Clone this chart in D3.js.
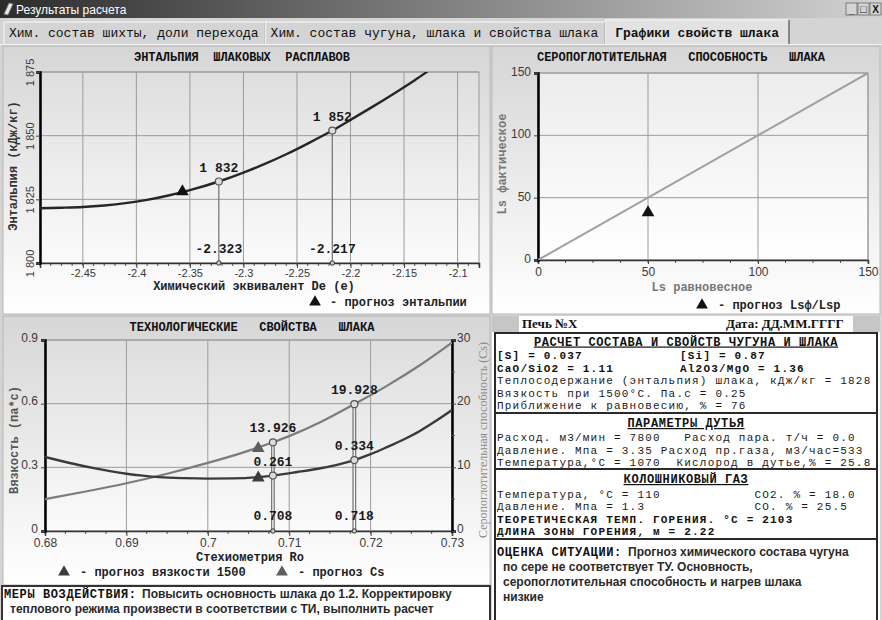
<!DOCTYPE html>
<html><head><meta charset="utf-8">
<script src="https://cdn.jsdelivr.net/npm/d3@7"></script>
<style>
html,body{margin:0;padding:0;background:#d4d4d4;overflow:hidden;}
svg{display:block;}
text{font-family:"Liberation Mono","DejaVu Sans Mono",monospace;white-space:pre;}
.sans{font-family:"Liberation Sans",Arial,sans-serif;}
.serif{font-family:"Liberation Serif","Times New Roman",serif;}
</style></head><body>
<svg id="win" width="882" height="620"></svg>
<script>
// ---------------- data ----------------
const windowTitle = "Результаты расчета";
const tabLabels = ["Хим. состав шихты, доли перехода", "Хим. состав чугуна, шлака и свойства шлака", "Графики свойств шлака"];

// Enthalpy of slag melts vs chemical equivalent De
const deValues = [-2.49, -2.47, -2.45, -2.43, -2.41, -2.39, -2.37, -2.35, -2.323, -2.30, -2.28, -2.26, -2.24, -2.217, -2.20, -2.18, -2.16, -2.14, -2.128];
const enthalpyValues = [1821.5, 1821.7, 1822.0, 1822.6, 1823.5, 1824.8, 1826.5, 1828.6, 1832.0, 1835.5, 1838.9, 1842.7, 1846.9, 1852.0, 1856.2, 1861.2, 1866.4, 1871.8, 1875.2];
const enthalpyMarkDe = [-2.323, -2.217];
const enthalpyMarkValue = [1832, 1852];
const enthalpyForecastDe = -2.357;
const enthalpyForecastValue = 1828;
const deTicks = [-2.45, -2.4, -2.35, -2.3, -2.25, -2.2, -2.15, -2.1];
const enthalpyTicks = [1800, 1825, 1850, 1875];

// Sulphur absorption: equilibrium vs actual
const lsEquilibrium = [0, 150];
const lsActual = [0, 150];
const lsForecastEq = 50;
const lsForecastActual = 38;
const lsTicks = [0, 50, 100, 150];

// Technological properties vs stoichiometry Ro
const roVisc = [0.68, 0.682, 0.684, 0.686, 0.688, 0.69, 0.692, 0.694, 0.697, 0.70, 0.703, 0.706, 0.708, 0.711, 0.714, 0.716, 0.718, 0.72, 0.722, 0.724, 0.726, 0.728, 0.73];
const viscosityValues = [0.349, 0.33, 0.312, 0.296, 0.282, 0.27, 0.261, 0.254, 0.249, 0.247, 0.248, 0.253, 0.261, 0.278, 0.297, 0.313, 0.334, 0.362, 0.395, 0.43, 0.47, 0.518, 0.57];
const roCs = [0.68, 0.685, 0.69, 0.695, 0.70, 0.704, 0.708, 0.71, 0.714, 0.718, 0.722, 0.726, 0.73];
const csValues = [5.0, 6.2, 7.5, 9.0, 10.7, 12.2, 13.926, 14.9, 17.2, 19.928, 22.8, 26.0, 29.6];
const roMarks = [0.708, 0.718];
const viscMarks = [0.261, 0.334];
const csMarks = [13.926, 19.928];
const roForecast = 0.7062;
const viscForecast = 0.25;
const csForecast = 13.0;
const roTicks = [0.68, 0.69, 0.7, 0.71, 0.72, 0.73];
const viscTicks = [0, 0.3, 0.6, 0.9];
const csTicks = [0, 10, 20, 30];

// Report
const furnace = "Печь №X";
const reportDate = "Дата: ДД.ММ.ГГГГ";
const sulphur = 0.037, silicon = 0.87, basicity = 1.11, aluminaMagnesia = 1.36;
const blastLines = ["Расход. м3/мин = 7800   Расход пара. т/ч = 0.0",
                    "Давление. Мпа = 3.35 Расход пр.газа, м3/час=533",
                    "Температура,°С = 1070  Кислород в дутье,% = 25.8"];
const gasLines = ["Температура, °С = 110            СО2. % = 18.0",
                  "Давление. Мпа = 1.3              СО. % = 25.5"];
const gasBoldLines = ["ТЕОРЕТИЧЕСКАЯ ТЕМП. ГОРЕНИЯ. °С = 2103", "ДЛИНА ЗОНЫ ГОРЕНИЯ, м = 2.22"];
const assessment = ["Прогноз химического состава чугуна", "по сере не соответствует ТУ. Основность,",
                    "серопоглотительная способность и нагрев шлака", "низкие"];
const measures = ["Повысить основность шлака до 1.2. Корректировку",
                  "теплового режима произвести в соответствии с ТИ, выполнить расчет"];

// ---------------- drawing ----------------
const W = 882, H = 620;
const svg = d3.select("#win");
const defs = svg.append("defs");
const fmtThousands = d3.formatLocale({decimal: ".", thousands: " ", grouping: [3], currency: ["", ""], minus: "-"}).format(",d");

function grad(id, c0, c1, horizontal) {
  const g = defs.append("linearGradient").attr("id", id)
    .attr("x1", 0).attr("y1", 0).attr("x2", horizontal ? 1 : 0).attr("y2", horizontal ? 0 : 1);
  g.append("stop").attr("offset", "0%").attr("stop-color", c0);
  g.append("stop").attr("offset", "100%").attr("stop-color", c1);
}
grad("gTitle", "#2c2c2c", "#d2d2d2", true);
grad("gPanel", "#d6d6d6", "#ffffff");
grad("gPlot", "#dedede", "#fbfbfb");
grad("gPlot2", "#ececec", "#ffffff");

svg.append("rect").attr("width", W).attr("height", H).attr("fill", "#d4d4d4");

// title bar
svg.append("rect").attr("x", 0).attr("y", 0).attr("width", W).attr("height", 18).attr("fill", "url(#gTitle)");
svg.append("path").attr("d", "M4,14 L9,3 L13,4 L8,15 Z").attr("fill", "#e8e8e8").attr("stroke", "#777");
svg.append("text").attr("class", "sans").attr("x", 16).attr("y", 13.5)
  .attr("font-size", 12).attr("fill", "#fff").text(windowTitle);
["_", "□", "X"].forEach((s, i) => {
  const bx = 846 + i * 12;
  svg.append("rect").attr("x", bx).attr("y", 3).attr("width", 11).attr("height", 12)
    .attr("fill", "#d4d4d4").attr("stroke", "#666").attr("stroke-width", 0.8);
  svg.append("text").attr("class", "sans").attr("x", bx + 5.5).attr("y", 13).attr("text-anchor", "middle")
    .attr("font-size", i === 1 ? 11 : 10).attr("font-weight", "bold").attr("fill", "#111").text(s);
});

// tabs
let tabX = 4;
tabLabels.forEach((label, i) => {
  const selected = i === tabLabels.length - 1;
  const w = label.length * 7.8 + (selected ? 20 : 12);
  const top = selected ? 20 : 22;
  const g = svg.append("g");
  g.append("rect").attr("x", tabX).attr("y", top).attr("width", w).attr("height", 44 - top)
    .attr("fill", selected ? "#e2e2e2" : "#d4d4d4");
  g.append("path").attr("d", `M${tabX},44 V${top} H${tabX + w}`).attr("fill", "none").attr("stroke", "#fafafa");
  g.append("path").attr("d", `M${tabX + w},${top} V44`).attr("fill", "none").attr("stroke", "#6a6a6a").attr("stroke-width", 1.5);
  g.append("text").attr("x", tabX + (selected ? 10 : 5)).attr("y", 37).attr("font-size", 13)
    .attr("font-weight", selected ? "bold" : "normal").attr("fill", "#111").text(label);
  tabX += w;
});
svg.append("line").attr("x1", 0).attr("x2", W).attr("y1", 44.5).attr("y2", 44.5).attr("stroke", "#f4f4f4");

// generic helpers
function panel(x, y, w, h) {
  svg.append("rect").attr("x", x).attr("y", y).attr("width", w).attr("height", h)
    .attr("fill", "url(#gPanel)").attr("stroke", "#b8b8b8");
}
function txt(x, y, s, o = {}) {
  const t = svg.append("text").attr("x", x).attr("y", y).text(s)
    .attr("font-size", o.size || 12).attr("fill", o.fill || "#111")
    .attr("font-weight", o.weight || "normal").attr("text-anchor", o.anchor || "start");
  if (o.cls) t.attr("class", o.cls);
  if (o.spacing) t.attr("letter-spacing", o.spacing);
  if (o.rotate) t.attr("transform", `rotate(${o.rotate},${x},${y})`);
  if (o.underline) t.attr("text-decoration", "underline");
  return t;
}
function triangle(x, y, fill, size) {
  svg.append("path").attr("d", d3.symbol(d3.symbolTriangle, size || 70)())
    .attr("transform", `translate(${x},${y})`).attr("fill", fill);
}
function plotArea(xs, ys, fill, clipId) {
  const [l, r] = xs.range(), [b, t] = ys.range();
  svg.append("rect").attr("x", l).attr("y", t).attr("width", r - l).attr("height", b - t)
    .attr("fill", fill).attr("stroke", "#9a9a9a");
  defs.append("clipPath").attr("id", clipId).append("rect")
    .attr("x", l).attr("y", t).attr("width", r - l).attr("height", b - t);
}
function grid(xs, ys, xt, yt) {
  const [l, r] = xs.range(), [b, t] = ys.range();
  const g = svg.append("g").attr("stroke", "#9c9c9c").attr("stroke-width", 1);
  xt.forEach(v => g.append("line").attr("x1", xs(v)).attr("x2", xs(v)).attr("y1", t).attr("y2", b));
  yt.forEach(v => g.append("line").attr("x1", l).attr("x2", r).attr("y1", ys(v)).attr("y2", ys(v)));
}
function minorTicks(xs, step, y, len) {
  const [a, b] = xs.domain();
  const g = svg.append("g").attr("stroke", "#555");
  for (let v = Math.ceil(a / step - 1e-9) * step; v <= b + 1e-9; v += step)
    g.append("line").attr("x1", xs(v)).attr("x2", xs(v)).attr("y1", y).attr("y2", y + len);
}
function styleAxis(g) {
  g.selectAll("text").attr("class", "sans").attr("font-size", 11).attr("fill", "#3a3a3a");
  g.selectAll(".tick line").attr("stroke", "#444");
}
function dropMark(xs, xv, yTop, yBottom, dx) {
  (dx || [0]).forEach(d => svg.append("line").attr("x1", xs(xv) + d).attr("x2", xs(xv) + d)
    .attr("y1", yTop).attr("y2", yBottom).attr("stroke", "#7a7a7a").attr("stroke-width", 1.3));
  svg.append("circle").attr("cx", xs(xv)).attr("cy", yBottom).attr("r", 2.2)
    .attr("fill", "#ccc").attr("stroke", "#333").attr("stroke-width", 1);
}
function pointMark(x, y) {
  svg.append("circle").attr("cx", x).attr("cy", y).attr("r", 3.5)
    .attr("fill", "#dcdcdc").attr("stroke", "#555").attr("stroke-width", 1.2);
}
const valueStyle = {size: 13, weight: "bold", anchor: "middle", fill: "#1a1a1a"};

// ---------- chart 1: enthalpy ----------
panel(3, 46, 487, 268);
const xDe = d3.scaleLinear().domain([-2.49, -2.08]).range([40, 479]);
const yH = d3.scaleLinear().domain([1800, 1875]).range([263, 72]);
plotArea(xDe, yH, "url(#gPlot)", "clip1");
grid(xDe, yH, deTicks, enthalpyTicks);
minorTicks(xDe, 0.01, 263, 3);
const ax1 = svg.append("g").attr("transform", "translate(0,263)")
  .call(d3.axisBottom(xDe).tickValues(deTicks).tickSize(5).tickFormat(String));
ax1.select(".domain").attr("stroke", "#333").attr("stroke-width", 1.5);
styleAxis(ax1);
ax1.selectAll("text").attr("dy", "0.55em");
const ay1 = svg.append("g").attr("transform", "translate(40,0)")
  .call(d3.axisLeft(yH).tickValues(enthalpyTicks).tickSize(4).tickFormat(fmtThousands));
ay1.select(".domain").attr("stroke", "#000").attr("stroke-width", 2.5);
styleAxis(ay1);
ay1.selectAll("text").attr("transform", "rotate(-90)").attr("x", 0).attr("y", -6).attr("dy", 0)
  .attr("text-anchor", "middle");
txt(242, 61, "ЭНТАЛЬПИЯ  ШЛАКОВЫХ  РАСПЛАВОВ", {size: 12, weight: "bold", anchor: "middle"});
txt(17, 166, "Энтальпия (кДж/кг)", {size: 12, weight: "bold", anchor: "middle", rotate: -90, fill: "#333"});
txt(254, 290, "Химический эквивалент De (е)", {size: 12, weight: "bold", anchor: "middle", fill: "#222"});

svg.append("path").datum(deValues.map((d, i) => [d, enthalpyValues[i]]))
  .attr("clip-path", "url(#clip1)")
  .attr("d", d3.line().x(d => xDe(d[0])).y(d => yH(d[1])).curve(d3.curveMonotoneX))
  .attr("fill", "none").attr("stroke", "#262626").attr("stroke-width", 2.4);
enthalpyMarkDe.forEach((de, i) => {
  const px = xDe(de), py = yH(enthalpyMarkValue[i]);
  dropMark(xDe, de, py, 263);
  pointMark(px, py);
  txt(px, py - 10, fmtThousands(enthalpyMarkValue[i]), valueStyle);
  txt(px, 253, String(de), valueStyle);
});
triangle(xDe(enthalpyForecastDe), yH(enthalpyForecastValue), "#111");
triangle(315, 302, "#111", 60);
txt(330, 306, "- прогноз энтальпии", {size: 12, weight: "bold", fill: "#222"});

// ---------- chart 2: sulphur absorption capacity ----------
panel(492, 46, 388, 268);
const xLs = d3.scaleLinear().domain([0, 150]).range([538, 868]);
const yLs = d3.scaleLinear().domain([0, 150]).range([260, 73]);
plotArea(xLs, yLs, "url(#gPlot2)", "clip2");
grid(xLs, yLs, lsTicks, lsTicks);
minorTicks(xLs, 12.5, 260, 3);
const ax2 = svg.append("g").attr("transform", "translate(0,260)")
  .call(d3.axisBottom(xLs).tickValues(lsTicks).tickSize(4));
ax2.select(".domain").attr("stroke", "#333").attr("stroke-width", 1.5);
styleAxis(ax2);
ax2.selectAll("text").attr("font-size", 12).attr("dy", "0.75em");
const ay2 = svg.append("g").attr("transform", "translate(538,0)")
  .call(d3.axisLeft(yLs).tickValues(lsTicks).tickSize(4));
ay2.select(".domain").attr("stroke", "#000").attr("stroke-width", 2.5);
styleAxis(ay2);
ay2.selectAll("text").attr("font-size", 12).attr("dy", "0.2em");
txt(681, 61, "СЕРОПОГЛОТИТЕЛЬНАЯ   СПОСОБНОСТЬ   ШЛАКА", {size: 12, weight: "bold", anchor: "middle"});
txt(506, 164, "Ls фактическое", {size: 12, weight: "bold", anchor: "middle", rotate: -90, fill: "#777"});
txt(702, 291, "Ls равновесное", {size: 12, weight: "bold", anchor: "middle", fill: "#777"});
svg.append("line").attr("clip-path", "url(#clip2)")
  .attr("x1", xLs(lsEquilibrium[0])).attr("y1", yLs(lsActual[0]))
  .attr("x2", xLs(lsEquilibrium[1])).attr("y2", yLs(lsActual[1]))
  .attr("stroke", "#a0a0a0").attr("stroke-width", 2);
triangle(xLs(lsForecastEq), yLs(lsForecastActual), "#111");
triangle(702, 305, "#111", 60);
txt(718, 309, "- прогноз Lsф/Lsp", {size: 12, weight: "bold", fill: "#222"});

// ---------- chart 3: technological properties ----------
panel(3, 316, 487, 269);
const xRo = d3.scaleLinear().domain([0.68, 0.73]).range([45, 452]);
const yV = d3.scaleLinear().domain([0, 0.9]).range([531, 340]);
const yCs = d3.scaleLinear().domain([0, 30]).range([531, 340]);
plotArea(xRo, yV, "url(#gPlot)", "clip3");
grid(xRo, yV, roTicks, viscTicks);
minorTicks(xRo, 0.0025, 531, 3);
const ax3 = svg.append("g").attr("transform", "translate(0,531)")
  .call(d3.axisBottom(xRo).tickValues(roTicks).tickSize(5).tickFormat(String));
ax3.select(".domain").attr("stroke", "#333").attr("stroke-width", 1.5);
styleAxis(ax3);
ax3.selectAll("text").attr("font-size", 12).attr("dy", "0.7em");
const ay3 = svg.append("g").attr("transform", "translate(45,0)")
  .call(d3.axisLeft(yV).tickValues(viscTicks).tickSize(4).tickFormat(String));
ay3.select(".domain").attr("stroke", "#000").attr("stroke-width", 2.5);
styleAxis(ay3);
ay3.selectAll("text").attr("font-size", 12).attr("dy", "0.1em");
const ay3r = svg.append("g").attr("transform", "translate(452,0)")
  .call(d3.axisRight(yCs).tickValues(csTicks).tickSize(4));
ay3r.select(".domain").attr("stroke", "#000").attr("stroke-width", 2.5);
styleAxis(ay3r);
ay3r.selectAll("text").attr("font-size", 12).attr("x", 5).attr("dy", "0.1em");
[5, 15, 25].forEach(v => svg.append("line").attr("x1", 452).attr("x2", 455)
  .attr("y1", yCs(v)).attr("y2", yCs(v)).attr("stroke", "#555"));
txt(252, 331, "ТЕХНОЛОГИЧЕСКИЕ   СВОЙСТВА   ШЛАКА", {size: 12, weight: "bold", anchor: "middle"});
txt(18, 440, "Вязкость (па*с)", {size: 12, weight: "bold", anchor: "middle", rotate: -90, fill: "#555"});
txt(487, 440, "Серопоглотительная способность (Cs)", {size: 12, anchor: "middle", rotate: -90, fill: "#8a8a8a", cls: "serif"});
txt(250, 561, "Стехиометрия Ro", {size: 12, weight: "bold", anchor: "middle", fill: "#222"});

svg.append("path").datum(roCs.map((d, i) => [d, csValues[i]]))
  .attr("clip-path", "url(#clip3)")
  .attr("d", d3.line().x(d => xRo(d[0])).y(d => yCs(d[1])).curve(d3.curveMonotoneX))
  .attr("fill", "none").attr("stroke", "#7c7c7c").attr("stroke-width", 2.2);
svg.append("path").datum(roVisc.map((d, i) => [d, viscosityValues[i]]))
  .attr("clip-path", "url(#clip3)")
  .attr("d", d3.line().x(d => xRo(d[0])).y(d => yV(d[1])).curve(d3.curveMonotoneX))
  .attr("fill", "none").attr("stroke", "#3a3a3a").attr("stroke-width", 2.4);
roMarks.forEach((ro, i) => {
  const px = xRo(ro), pv = yV(viscMarks[i]), pc = yCs(csMarks[i]);
  dropMark(xRo, ro, pc, 531, [-1.3, 1.3]);
  pointMark(px, pv);
  pointMark(px, pc);
  txt(px, pc - 10, d3.format(".3f")(csMarks[i]), valueStyle);
  txt(px, pv - 10, d3.format(".3f")(viscMarks[i]), valueStyle);
  txt(px, 520, String(ro), valueStyle);
});
triangle(xRo(roForecast), yV(viscForecast), "#3c3c3c");
triangle(xRo(roForecast), yCs(csForecast), "#5e5e5e");
triangle(64, 572, "#3c3c3c", 60);
txt(80, 576, "- прогноз вязкости 1500", {size: 12, weight: "bold", fill: "#222"});
triangle(282, 572, "#5e5e5e", 60);
txt(298, 576, "- прогноз Cs", {size: 12, weight: "bold", fill: "#222"});

// ---------- measures box ----------
svg.append("rect").attr("x", 2).attr("y", 586).attr("width", 488).attr("height", 40)
  .attr("fill", "#fff").attr("stroke", "#333").attr("stroke-width", 2);
txt(4, 598, "МЕРЫ ВОЗДЕЙСТВИЯ:", {size: 12, weight: "bold", spacing: 0.6});
txt(142, 598, measures[0], {size: 12, weight: "bold", cls: "sans", fill: "#2a2a2a"});
txt(10, 613, measures[1], {size: 12, weight: "bold", cls: "sans", fill: "#2a2a2a"});

// ---------- report panel ----------
svg.append("rect").attr("x", 492).attr("y", 316).attr("width", 388).attr("height", 304).attr("fill", "#fff");
svg.append("rect").attr("x", 492).attr("y", 316).attr("width", 27).attr("height", 16).attr("fill", "#c6c6c6");
svg.append("rect").attr("x", 853).attr("y", 316).attr("width", 27).attr("height", 16).attr("fill", "#c6c6c6");
txt(522, 328, furnace, {size: 13, weight: "bold", cls: "serif"});
txt(726, 328, reportDate, {size: 13, weight: "bold", cls: "serif"});

const boxes = [[333, 413], [413, 469], [469, 539], [539, 624]];
boxes.forEach(([a, b]) => svg.append("rect").attr("x", 495).attr("y", a).attr("width", 382).attr("height", b - a)
  .attr("fill", "none").attr("stroke", "#2a2a2a").attr("stroke-width", 2));

// Courier-like rows: 7.8 px per character, 12.5 px per row
const mono = {size: 11, fill: "#1a1a1a", spacing: 1.2};
const monoB = {size: 11, weight: "bold", fill: "#111", spacing: 1.2};
const head = {size: 12, weight: "bold", fill: "#111", spacing: 0.6, anchor: "middle", underline: true};
txt(686, 345.5, "РАСЧЕТ СОСТАВА И СВОЙСТВ ЧУГУНА И ШЛАКА", head);
txt(497, 359, `[S] = ${sulphur}`, monoB);
txt(680, 359, `[Si] = ${silicon}`, monoB);
txt(497, 371.5, `CaO/SiO2 = ${basicity}`, monoB);
txt(680, 371.5, `Al2O3/MgO = ${aluminaMagnesia}`, monoB);
txt(497, 384, `Теплосодержание (энтальпия) шлака, кДж/кг = ${enthalpyForecastValue}`, mono);
txt(497, 396.5, `Вязкость при 1500°С. Па.с = ${viscForecast}`, mono);
txt(497, 409, `Приближение к равновесию, % = ${Math.round(lsForecastActual / lsForecastEq * 100)}`, mono);

txt(686, 427, "ПАРАМЕТРЫ ДУТЬЯ", head);
blastLines.forEach((s, i) => txt(497, 441 + i * 12.5, s, mono));

txt(686, 483, "КОЛОШНИКОВЫЙ ГАЗ", head);
gasLines.forEach((s, i) => txt(497, 497.5 + i * 12.5, s, mono));
gasBoldLines.forEach((s, i) => txt(497, 522.5 + i * 12.5, s, monoB));

txt(497, 556, "ОЦЕНКА СИТУАЦИИ:", {size: 12, weight: "bold", fill: "#111", spacing: 0.6});
txt(628, 556, assessment[0], {size: 12, weight: "bold", cls: "sans", fill: "#2a2a2a"});
assessment.slice(1).forEach((s, i) => txt(503, 571 + i * 15, s, {size: 12, weight: "bold", cls: "sans", fill: "#2a2a2a"}));
</script>
</body></html>
